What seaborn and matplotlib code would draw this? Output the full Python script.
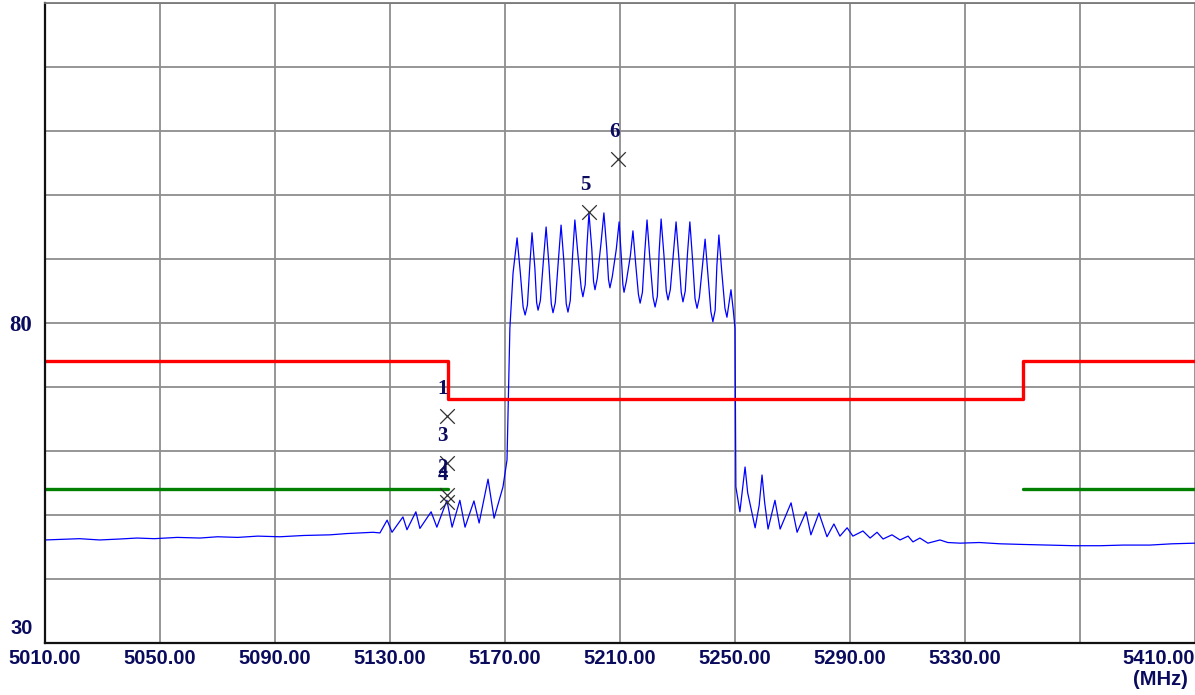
import pandas as pd
import seaborn as sns
import matplotlib.pyplot as plt
from matplotlib.transforms import ScaledTranslation

freq_mhz = [5010.0, 5016.0, 5022.0, 5029.0, 5036.1, 5042.0, 5048.0, 5056.0, 5063.9, 5070.0,
            5077.0, 5084.0, 5091.7, 5100.0, 5109.1, 5115.0, 5119.6, 5124.1, 5126.5, 5129.0,
            5130.7, 5134.5, 5135.9, 5139.0, 5140.4, 5144.3, 5146.3, 5149.8, 5151.6, 5154.3,
            5156.1, 5159.2, 5161.0, 5164.1, 5166.2, 5169.3, 5170.7, 5171.7, 5172.8,
            5174.2, 5175.3, 5176.3, 5177.0, 5177.8, 5178.7,
            5179.4, 5180.4, 5181.0, 5181.5, 5182.3, 5183.4,
            5184.3, 5185.3, 5186.1, 5186.7, 5187.5, 5188.6,
            5189.5, 5190.5, 5191.3, 5191.9, 5192.7, 5193.5,
            5194.3, 5195.4, 5196.5, 5197.1, 5197.9, 5198.5,
            5199.2, 5200.2, 5200.8, 5201.3, 5202.1, 5203.4,
            5204.4, 5205.4, 5206.0, 5206.5, 5207.3, 5208.7,
            5209.7, 5210.5, 5211.0, 5211.4, 5212.2, 5213.6,
            5214.5, 5215.5, 5216.4, 5217.0, 5217.8, 5218.6,
            5219.4, 5220.4, 5221.5, 5222.2, 5223.0, 5223.6,
            5224.3, 5225.3, 5226.1, 5226.7, 5227.5, 5228.6,
            5229.5, 5230.5, 5231.3, 5231.9, 5232.7, 5233.5,
            5234.3, 5235.3, 5236.1, 5236.8, 5237.6, 5238.7,
            5239.6, 5240.6, 5241.6, 5242.3, 5243.1, 5243.7,
            5244.4, 5245.4, 5246.5, 5247.2, 5247.9, 5248.6, 5249.4, 5250.0,
            5250.2, 5250.3, 5251.7, 5252.6, 5253.5, 5254.4, 5257.0, 5258.4,
            5259.4, 5260.3, 5261.5, 5263.9, 5265.7, 5269.5, 5271.6, 5274.7, 5276.4, 5279.2,
            5282.0, 5284.4, 5286.5, 5289.0, 5291.0, 5294.5, 5297.0, 5299.4, 5301.5, 5304.6,
            5307.4, 5310.2, 5311.9, 5314.3, 5317.1, 5321.3, 5324.0, 5328.3, 5335.0, 5342.2,
            5350.0, 5359.6, 5368.0, 5377.0, 5385.0, 5394.3, 5402.0, 5410.0]
level_dbuv = [46.1, 46.2, 46.3, 46.1, 46.25, 46.4, 46.3, 46.5, 46.4, 46.6,
              46.5, 46.7, 46.6, 46.8, 46.9, 47.1, 47.2, 47.3, 47.2, 49.2,
              47.3, 49.7, 47.7, 50.5, 47.9, 50.5, 48.1, 52.3, 48.1, 52.3,
              48.1, 52.2, 48.75, 55.6, 49.5, 54.4, 58.6, 79.2, 87.8,
              93.3, 88.0, 82.5, 81.25, 82.8, 89.5,
              94.1, 88.5, 83.2, 82.0, 83.5, 90.0,
              95.0, 89.0, 83.0, 81.6, 83.2, 90.0,
              95.3, 89.5, 83.0, 81.7, 83.5, 90.5,
              96.1, 90.5, 85.5, 84.1, 86.0, 92.0,
              97.2, 91.5, 86.5, 85.2, 87.0, 92.5,
              97.2, 91.5, 86.8, 85.5, 87.2, 91.5,
              95.8, 90.0, 86.0, 84.8, 86.5, 90.5,
              94.4, 89.0, 84.5, 83.1, 84.8, 91.0,
              96.1, 90.0, 84.0, 82.5, 84.2, 91.0,
              96.25, 90.5, 85.0, 83.6, 85.2, 91.0,
              95.8, 90.0, 84.8, 83.3, 85.0, 91.0,
              95.8, 89.5, 83.8, 82.3, 84.0, 89.0,
              93.1, 87.5, 81.8, 80.2, 82.0, 89.0,
              93.75, 88.0, 82.3, 80.9, 83.0, 85.2, 82.0, 79.2,
              61.7, 54.4, 50.5, 54.0, 57.5, 53.5, 48.0, 51.5,
              56.25, 52.0, 47.8, 52.3, 47.8, 51.9, 47.3, 50.5, 46.9, 50.3,
              46.6, 48.6, 46.7, 48.0, 46.7, 47.5, 46.4, 47.3, 46.25, 46.9,
              46.1, 46.7, 45.8, 46.4, 45.6, 46.1, 45.7, 45.6, 45.7, 45.5,
              45.4, 45.3, 45.2, 45.2, 45.3, 45.3, 45.5, 45.6]

# Limites (crête en rouge, moyenne en vert)
limit_freq = [5010, 5150, 5150, 5350, 5350, 5410]
limit_peak = [74, 74, 68.2, 68.2, 74, 74]
avg_freq_low = [5010, 5150]
avg_freq_high = [5350, 5410]
avg_level = [54, 54]

# Marqueurs
marker_ids = ['1', '2', '3', '4', '5', '6']
marker_freq = [5149.7, 5149.7, 5149.7, 5149.7, 5199.2, 5209.4]
marker_level = [65.5, 53.1, 58.1, 52.0, 97.4, 105.7]

xticks = [5010, 5050, 5090, 5130, 5170, 5210, 5250, 5290, 5330, 5370, 5410]
xtick_labels = ['5010.00', '5050.00', '5090.00', '5130.00', '5170.00', '5210.00',
                '5250.00', '5290.00', '5330.00', '', '5410.00']
ygrid = [30, 40, 50, 60, 70, 80, 90, 100, 110, 120, 130]
ytick_labels = ['30', '', '', '', '', '80', '', '', '', '', '']

TXT = '#0b0b5e'

sns.set_style('white')
plt.rcParams['font.family'] = ['Liberation Sans', 'DejaVu Sans']

fig = plt.figure(figsize=(11.95, 6.95), dpi=100)
ax = fig.add_axes([45 / 1195, 52 / 695, 1150 / 1195, 640 / 695])

trace = pd.DataFrame({'freq': freq_mhz, 'level': level_dbuv})
sns.lineplot(data=trace, x='freq', y='level', ax=ax, color='#0000ff', lw=0.9,
             sort=False, estimator=None)

sns.lineplot(x=limit_freq, y=limit_peak, ax=ax, color='#ff0000', lw=2.4,
             sort=False, estimator=None)
sns.lineplot(x=avg_freq_low, y=avg_level, ax=ax, color='#007f00', lw=2.4, estimator=None)
sns.lineplot(x=avg_freq_high, y=avg_level, ax=ax, color='#007f00', lw=2.4, estimator=None)

sns.scatterplot(x=marker_freq, y=marker_level, ax=ax, marker='x', s=110,
                color='#303030', linewidth=0.9, zorder=5)
for mid, f, lv in zip(marker_ids, marker_freq, marker_level):
    ax.annotate(mid, (f, lv), xytext=(-4, 27), textcoords='offset pixels',
                ha='center', va='center', fontsize=15, fontweight='bold',
                color=TXT, family=['Liberation Serif', 'DejaVu Serif'], zorder=6)

ax.set_xlim(5010, 5410)
ax.set_ylim(30, 130)
ax.set_xticks(xticks)
ax.set_xticklabels(xtick_labels, fontsize=14.5, fontweight='bold', color=TXT)
ax.set_yticks(ygrid)
ax.set_yticklabels(ytick_labels, fontsize=14.5, fontweight='bold', color=TXT)
ax.tick_params(axis='both', length=0)
ax.tick_params(axis='x', pad=4)
ax.tick_params(axis='y', pad=9)
ax.grid(True, color='#8e8e8e', lw=1.3)
ax.set_axisbelow(True)
ax.set_xlabel('')
ax.set_ylabel('')

xl = ax.get_xticklabels()
xl[-1].set_ha('right')
yl = ax.get_yticklabels()
yl[0].set_transform(yl[0].get_transform() + ScaledTranslation(0, 0.17, fig.dpi_scale_trans))
yl[5].set_family(['Liberation Serif', 'DejaVu Serif'])
yl[5].set_fontsize(16.5)

for side in ['left', 'bottom']:
    ax.spines[side].set_color('#111111')
    ax.spines[side].set_linewidth(1.6)
ax.spines['top'].set_color('#7a7a7a')
ax.spines['top'].set_linewidth(1.3)
ax.spines['right'].set_visible(False)

fig.text(0.994, 0.022, '(MHz)', ha='right', va='center', fontsize=14.5,
         fontweight='bold', color=TXT)

plt.savefig('out.png', dpi=100)
